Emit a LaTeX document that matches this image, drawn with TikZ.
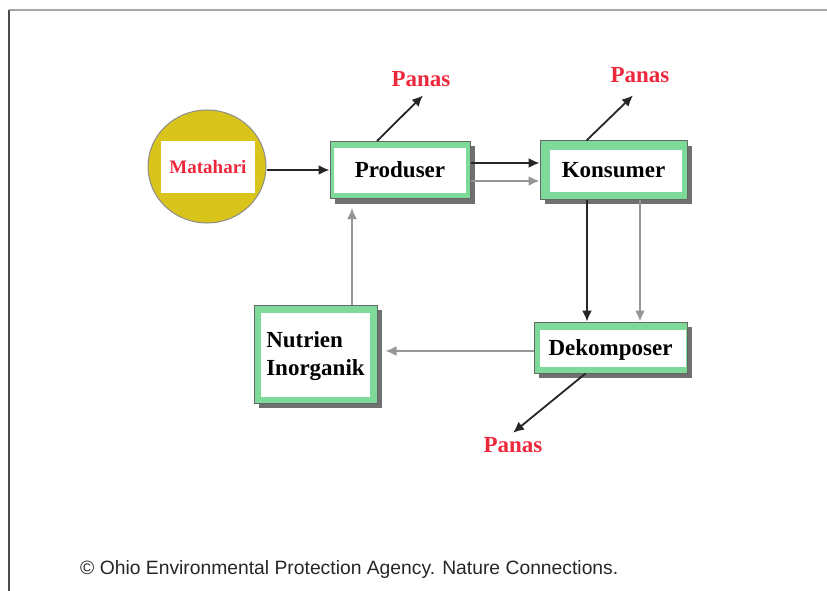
\documentclass[tikz,border=0pt]{standalone}
\usepackage{fontspec}
\setmainfont{Liberation Serif}
\newfontfamily\footfont{Liberation Sans}
\usetikzlibrary{arrows.meta,shapes.geometric,shadows}

\definecolor{sunyellow}{RGB}{217,196,27}
\definecolor{boxgreen}{RGB}{125,218,152}
\definecolor{heatred}{RGB}{238,40,60}
\definecolor{flowgray}{RGB}{150,150,150}

\tikzset{
	unitbox/.style n args={4}{draw=black!60, line width=1pt, fill=boxgreen, inner sep=0pt,
		font=\bfseries\fontsize{23}{28}\selectfont, text depth=0pt,
		drop shadow={shadow xshift=5pt, shadow yshift=-5pt, fill=black!75, opacity=.75},
		path picture={\fill[white] ([shift={(#1pt,-#2pt)}]path picture bounding box.north west)
			rectangle ([shift={(-#3pt,#4pt)}]path picture bounding box.south east);}},
	heat/.style={text=heatred, font=\bfseries\fontsize{23}{23}\selectfont, inner sep=4pt},
	flow/.style={draw=black!85, line width=1.8pt, -{Latex[length=11pt,width=10pt]}},
	backflow/.style={draw=flowgray, line width=1.8pt, -{Latex[length=11pt,width=10pt]}}
}

\begin{document}
\begin{tikzpicture}[x=1pt,y=-1pt]
	\useasboundingbox (0,0) rectangle (827,591);
	% frame
	\draw [black!35, line width=1.5pt] (9,10) -- (827,10);
	\draw [black!70, line width=2pt] (9,10) -- (9,591);

	% sun
	\node [ellipse, draw=black!45, line width=1pt, fill=sunyellow,
		minimum width=118pt, minimum height=113pt] (sun) at (207,166.5) {};
	\node [fill=white, minimum width=94pt, minimum height=52pt, inner sep=0pt, text=heatred,
		font=\bfseries\fontsize{19}{19}\selectfont, text depth=0pt] (matahari) at (208,167) {Matahari};

	% boxes
	\node [unitbox={4}{7}{4}{6}, minimum width=140pt, minimum height=57pt] (prod) at (400,170) {Produser};
	\node [unitbox={10}{9}{5}{7}, minimum width=147pt, minimum height=58pt] (kons) at (613.5,170) {Konsumer};
	\node [unitbox={6}{8}{1}{6}, minimum width=153pt, minimum height=51pt] (dek) at (610.5,347.5) {Dekomposer};
	\node [unitbox={7}{8}{7}{6}, minimum width=123pt, minimum height=98pt, align=left] (nutr) at (315.5,354) {Nutrien\\Inorganik};

	% label
	\node [heat, anchor=base] (panas1) at (421,87) {Panas};
	\node [heat, anchor=base] (panas2) at (640,83) {Panas};
	\node [heat, anchor=base] (panas3) at (513,452) {Panas};

	% sun
	\draw [flow] (sun.east |- prod) -- (prod.west);
	% produser
	\draw [flow] ([yshift=7pt]prod.east) -- ([yshift=7pt]kons.west);
	\draw [backflow] ([yshift=-11pt]prod.east) -- ([yshift=-11pt]kons.west);
	\draw [flow] ([xshift=-23pt]prod.north) -- ([xshift=2pt,yshift=-4pt]panas1.south);
	% konsumer
	\draw [flow] ([xshift=-27pt]kons.north) -- ([xshift=-7pt,yshift=-8pt]panas2.south);
	\draw [flow] ([xshift=-26.5pt]kons.south) -- ([xshift=-26.5pt]kons.south |- dek.north);
	\draw [backflow] ([xshift=26.5pt]kons.south) -- ([xshift=26.5pt]kons.south |- dek.north);
	% dekomposer
	\draw [backflow] ([yshift=-3.5pt]dek.west) -- ([xshift=8pt,yshift=-3.5pt]dek.west -| nutr.east);
	\draw [flow] ([xshift=-25pt]dek.south) -- (panas3.north);
	% nutrien
	\draw [backflow] ([xshift=36.5pt]nutr.north) -- ([xshift=36.5pt,yshift=-9pt]nutr.north |- prod.south);

	% credit
	\node [anchor=base west, inner sep=0pt, text=black!85,
		font=\footfont\fontsize{19.3}{19.3}\selectfont] (credit) at (80,574)
		{© Ohio Environmental Protection Agency. Nature Connections.};
\end{tikzpicture}
\end{document}
